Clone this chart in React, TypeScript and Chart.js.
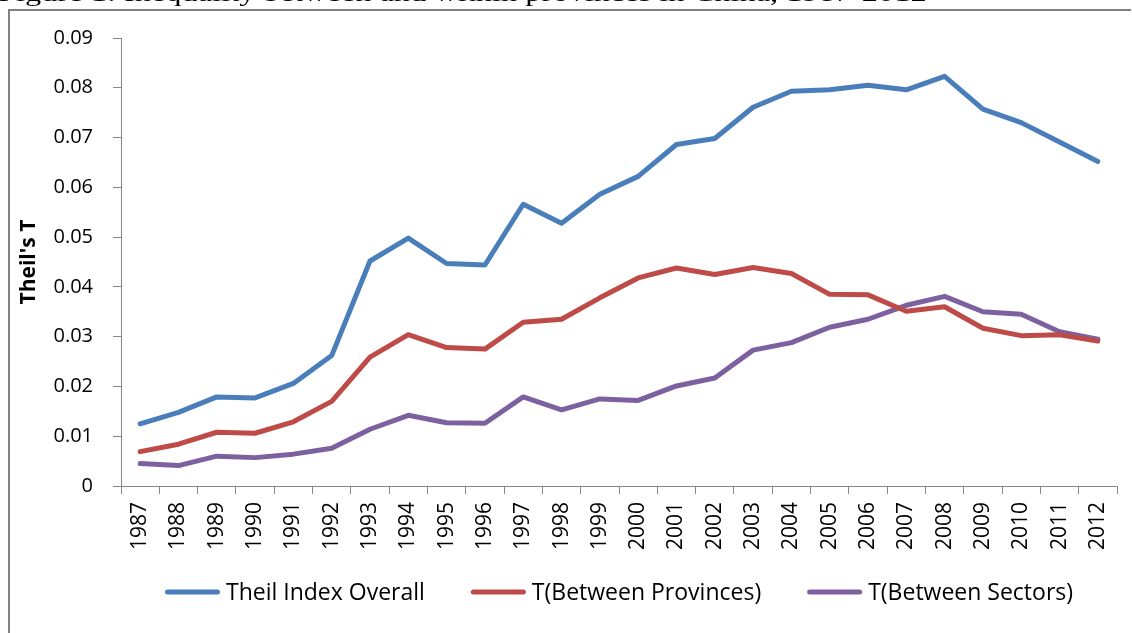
import React, { useEffect, useRef } from "react";
import { Chart, registerables } from "chart.js";

Chart.register(...registerables);

const years = ["1987","1988","1989","1990","1991","1992","1993","1994","1995","1996","1997","1998","1999","2000","2001","2002","2003","2004","2005","2006","2007","2008","2009","2010","2011","2012"];

const theilOverall = [0.0125,0.0148,0.0179,0.0177,0.0206,0.0262,0.0452,0.0498,0.0447,0.0444,0.0566,0.0528,0.0586,0.0622,0.0686,0.0698,0.0761,0.0793,0.0796,0.0805,0.0796,0.0823,0.0757,0.0730,0.0691,0.0652];

const betweenProvinces = [0.0069,0.0084,0.0108,0.0106,0.0129,0.0170,0.0259,0.0304,0.0278,0.0275,0.0329,0.0335,0.0378,0.0418,0.0438,0.0425,0.0439,0.0427,0.0385,0.0384,0.0351,0.0360,0.0317,0.0302,0.0304,0.0291];

const betweenSectors = [0.0045,0.0041,0.0060,0.0057,0.0064,0.0076,0.0114,0.0142,0.0127,0.0126,0.0179,0.0153,0.0175,0.0172,0.0201,0.0217,0.0273,0.0288,0.0319,0.0335,0.0363,0.0381,0.0350,0.0345,0.0310,0.0295];

const seriesLabels = ["Theil Index Overall", "T(Between Provinces)", "T(Between Sectors)"];
const yTicks = [0, 0.01, 0.02, 0.03, 0.04, 0.05, 0.06, 0.07, 0.08, 0.09];
const caption = "Figure 1: Inequality between and within provinces in China, 1987-2012";
const yTitle = "Theil's T";

const COLORS = ["#4A7EBB", "#BE4B48", "#7D60A0"];
const AXIS = "#868686";
const FONT = "'Open Sans', 'Noto Sans', sans-serif";

const W = 1132;
const H = 633;
const PLOT_BOTTOM = 486;
const LEGEND_CENTER_Y = 592;
const BOTTOM_RESERVE = 10;

export default function App() {
  const ref = useRef<HTMLCanvasElement | null>(null);

  useEffect(() => {
    const canvas = ref.current;
    if (!canvas) return;
    const legendFont = 23;
    const sampleLen = 55;
    const sampleGap = 6;
    const itemGap = 46;

    // Legend drawn from the chart's own datasets, centred on the plot area
    const plotLegend = {
      id: "plotLegend",
      afterDraw(chart: any) {
        const ctx = chart.ctx;
        const area = chart.chartArea;
        ctx.save();
        ctx.font = `${legendFont}px ${FONT}`;
        const items = chart.data.datasets.map((ds: any) => ({
          text: ds.label,
          color: ds.borderColor,
          w: ctx.measureText(ds.label).width,
        }));
        const total =
          items.reduce((s: number, it: any) => s + sampleLen + sampleGap + it.w, 0) +
          itemGap * (items.length - 1);
        let x = (area.left + area.right) / 2 - total / 2;
        const y = LEGEND_CENTER_Y;
        items.forEach((it: any) => {
          ctx.beginPath();
          ctx.strokeStyle = it.color;
          ctx.lineWidth = 5;
          ctx.lineCap = "round";
          ctx.moveTo(x + 2.5, y);
          ctx.lineTo(x + sampleLen - 2.5, y);
          ctx.stroke();
          ctx.fillStyle = "#000000";
          ctx.textAlign = "left";
          ctx.textBaseline = "middle";
          ctx.fillText(it.text, x + sampleLen + sampleGap, y + 1);
          x += sampleLen + sampleGap + it.w + itemGap;
        });
        ctx.restore();
      },
    };

    const chart = new Chart(canvas, {
      type: "line",
      data: {
        labels: years,
        datasets: [theilOverall, betweenProvinces, betweenSectors].map((d, i) => ({
          label: seriesLabels[i],
          data: d,
          borderColor: COLORS[i],
          backgroundColor: COLORS[i],
          borderWidth: 5,
          borderCapStyle: "round" as const,
          borderJoinStyle: "round" as const,
          pointRadius: 0,
          pointHoverRadius: 0,
          tension: 0,
          fill: false,
        })),
      },
      options: {
        responsive: false,
        animation: false,
        devicePixelRatio: 1,
        layout: { padding: { left: 0, right: 15, top: 38, bottom: BOTTOM_RESERVE } },
        plugins: {
          title: { display: false },
          tooltip: { enabled: false },
          legend: { display: false },
        },
        scales: {
          x: {
            type: "category",
            offset: true,
            afterFit(scale: any) {
              scale.height = H - BOTTOM_RESERVE - PLOT_BOTTOM;
            },
            grid: {
              offset: true,
              drawOnChartArea: false,
              drawTicks: true,
              tickLength: 8,
              color: AXIS,
              lineWidth: 1,
            },
            border: { display: true, color: AXIS, width: 1 },
            ticks: {
              autoSkip: false,
              maxRotation: 90,
              minRotation: 90,
              padding: 8,
              color: "#000000",
              font: { family: FONT, size: 21 },
            },
          },
          y: {
            type: "linear",
            min: 0,
            max: 0.09,
            afterFit(scale: any) {
              scale.width = 121;
            },
            afterBuildTicks(scale: any) {
              scale.ticks = yTicks.map((v) => ({ value: v }));
            },
            grid: {
              drawOnChartArea: false,
              drawTicks: true,
              tickLength: 8,
              color: AXIS,
              lineWidth: 1,
            },
            border: { display: true, color: AXIS, width: 1 },
            title: {
              display: true,
              text: yTitle,
              color: "#000000",
              font: { family: FONT, size: 21, weight: "bold" },
              padding: { top: 16, bottom: 0 },
            },
            ticks: {
              padding: 20,
              color: "#000000",
              font: { family: FONT, size: 20 },
              callback: (v: any) => (Number(v) === 0 ? "0" : Number(v).toFixed(2)),
            },
          },
        },
      },
      plugins: [plotLegend],
    });

    return () => chart.destroy();
  }, []);

  return (
    <div
      style={{
        position: "fixed",
        left: 0,
        top: 0,
        width: W,
        height: H,
        background: "#ffffff",
        overflow: "hidden",
      }}
    >
      <canvas
        ref={ref}
        width={W}
        height={H}
        style={{ position: "absolute", left: 0, top: 0, width: W, height: H }}
      />
      <div
        style={{
          position: "absolute",
          left: -2,
          top: -19,
          fontFamily: "'Liberation Serif', 'Times New Roman', serif",
          fontSize: 24,
          lineHeight: "24px",
          whiteSpace: "nowrap",
          color: "#000",
          transform: "scaleX(1.35)",
          transformOrigin: "0 0",
        }}
      >
        {caption}
      </div>
      <div style={{ position: "absolute", left: 8, top: 9, width: 1123, height: 1.5, background: "#808080" }} />
      <div style={{ position: "absolute", left: 8, top: 9, width: 1.5, height: H, background: "#808080" }} />
    </div>
  );
}
